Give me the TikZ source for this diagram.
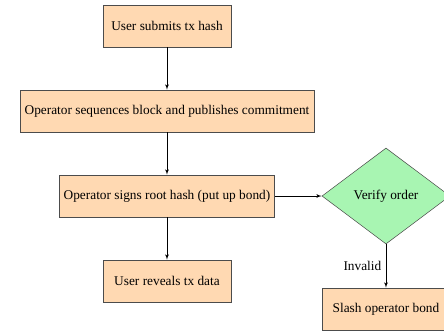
\documentclass[tikz,border=0pt]{standalone}
\usepackage{fontspec}
\setmainfont{Liberation Serif}
\usepackage{tikz}
\usetikzlibrary{shapes,arrows,positioning}
\definecolor{checkgreen}{RGB}{168,245,178}
\tikzstyle{line} = [draw, -latex']
\tikzstyle{step_box} = [rectangle, draw=black!70, fill=orange!30, minimum width=96pt, minimum height=31.5pt, text centered, node distance=63.75pt]
\tikzstyle{check} = [diamond, draw=black!70, fill=checkgreen, aspect=1.33, minimum width=96pt, minimum height=72pt, inner sep=0pt, text centered]

\begin{document}
\begin{tikzpicture}
\useasboundingbox (-125.25pt,19.5pt) rectangle (207.75pt,-230.25pt);
\node [step_box] (submit) {User submits tx hash};
\node [step_box, below of = submit] (commit) {Operator sequences block and publishes commitment};
\path [line] (submit.south) to (commit.north);

\node [step_box, below of = commit] (sign) {Operator signs root hash (put up bond)};
\path [line] (commit.south) to (sign.north);

\node [step_box, below of = sign] (reveal) {User reveals tx data};
\path [line] (sign.south) to (reveal.north);

\node [check, right of = sign, node distance = 164.25pt] (verify) {Verify order};
\path [line] (sign.east) to (verify.west);

\node [step_box, below of = verify, node distance = 84.75pt] (slash) {Slash operator bond};
\path [line] (verify.south) to node [left] {Invalid} (slash.north);

\end{tikzpicture}
\end{document}
